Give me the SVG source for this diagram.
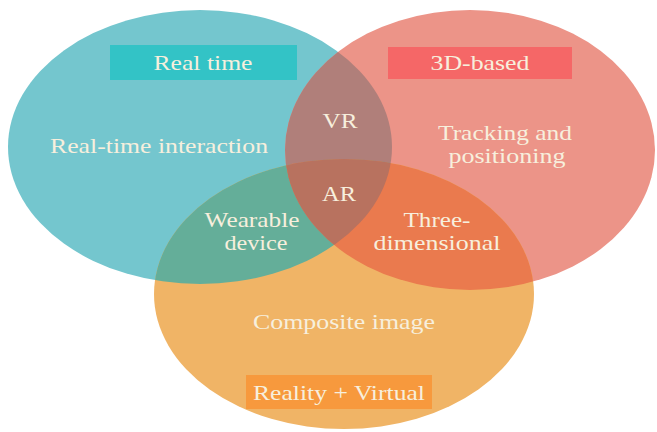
<svg xmlns="http://www.w3.org/2000/svg" width="657" height="432" viewBox="0 0 657 432">
  <style>
    text { font-family: 'Liberation Serif', 'Times New Roman', 'DejaVu Serif', serif; font-size: 21px; fill: #f7efdd; text-anchor: middle; }
  </style>
  <defs>
    <clipPath id="clipTeal"><ellipse cx="200" cy="147" rx="192" ry="137"/></clipPath>
    <clipPath id="clipRed"><ellipse cx="470" cy="150" rx="185" ry="140"/></clipPath>
  </defs>

  <!-- base sets -->
  <g id="set-realtime">
    <ellipse cx="200" cy="147" rx="192" ry="137" fill="#74c6ce"/>
  </g>
  <g id="set-3d">
    <ellipse cx="470" cy="150" rx="185" ry="140" fill="#ec9488"/>
  </g>
  <g id="set-composite">
    <ellipse cx="344" cy="294" rx="190" ry="135" fill="#f0b466"/>
  </g>

  <!-- pairwise overlaps -->
  <g id="overlap-vr">
    <ellipse cx="470" cy="150" rx="185" ry="140" fill="#b07f7a" clip-path="url(#clipTeal)"/>
  </g>
  <g id="overlap-wearable">
    <ellipse cx="344" cy="294" rx="190" ry="135" fill="#64ae99" clip-path="url(#clipTeal)"/>
  </g>
  <g id="overlap-three-dim">
    <ellipse cx="344" cy="294" rx="190" ry="135" fill="#ea7a4e" clip-path="url(#clipRed)"/>
  </g>
  <!-- triple overlap -->
  <g id="overlap-ar" clip-path="url(#clipTeal)">
    <ellipse cx="344" cy="294" rx="190" ry="135" fill="#b8725f" clip-path="url(#clipRed)"/>
  </g>

  <!-- title tags -->
  <g id="tag-realtime">
    <rect x="110" y="45" width="187" height="35" fill="#33c3c6"/>
    <text x="203" y="70" textLength="99" lengthAdjust="spacingAndGlyphs">Real time</text>
  </g>
  <g id="tag-3d">
    <rect x="388" y="47" width="184" height="32" fill="#f56767"/>
    <text x="480" y="70" textLength="99" lengthAdjust="spacingAndGlyphs">3D-based</text>
  </g>
  <g id="tag-composite">
    <rect x="246" y="375" width="186" height="34" fill="#f7993d"/>
    <text x="339" y="400" textLength="172" lengthAdjust="spacingAndGlyphs">Reality + Virtual</text>
  </g>

  <!-- region labels -->
  <g id="labels">
    <text x="159" y="153" textLength="218" lengthAdjust="spacingAndGlyphs">Real-time interaction</text>
    <text x="340" y="128" textLength="35" lengthAdjust="spacingAndGlyphs">VR</text>
    <text x="505" y="140" textLength="134" lengthAdjust="spacingAndGlyphs">Tracking and</text>
    <text x="507" y="163" textLength="117" lengthAdjust="spacingAndGlyphs">positioning</text>
    <text x="339" y="201" textLength="34" lengthAdjust="spacingAndGlyphs">AR</text>
    <text x="252" y="227" textLength="95" lengthAdjust="spacingAndGlyphs">Wearable</text>
    <text x="256" y="250" textLength="63" lengthAdjust="spacingAndGlyphs">device</text>
    <text x="437" y="227" textLength="67" lengthAdjust="spacingAndGlyphs">Three-</text>
    <text x="437" y="250" textLength="127" lengthAdjust="spacingAndGlyphs">dimensional</text>
    <text x="344" y="329" textLength="182" lengthAdjust="spacingAndGlyphs">Composite image</text>
  </g>
</svg>
